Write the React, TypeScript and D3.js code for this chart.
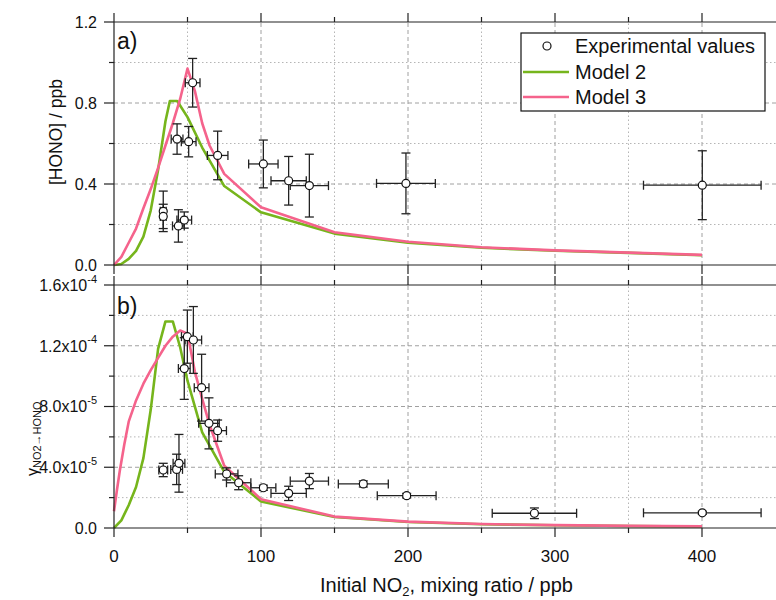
import React from 'react';
import * as d3 from 'd3';

// ---------- Data ----------
// Panel a) [HONO] / ppb
const expHonoX = [53.5, 42.9, 50.8, 70.5, 101.6, 118.8, 132.9, 33.5, 33.5, 43.8, 47.8, 198.6, 400.2];
const expHonoY = [0.90, 0.622, 0.609, 0.541, 0.499, 0.416, 0.392, 0.265, 0.24, 0.193, 0.222, 0.403, 0.394];
const expHonoXErr = [5, 4, 5, 7, 10, 12, 13, 2, 2, 4, 5, 20, 40];
const expHonoYErr = [0.12, 0.075, 0.075, 0.12, 0.118, 0.12, 0.155, 0.1, 0.06, 0.08, 0.04, 0.15, 0.17];

const model2HonoX = [0, 5, 10, 15, 20, 25, 30, 35, 38, 43, 50, 60, 75, 100, 150, 200, 250, 300, 350, 400];
const model2HonoY = [0, 0.005, 0.03, 0.07, 0.14, 0.27, 0.47, 0.71, 0.81, 0.81, 0.73, 0.58, 0.39, 0.26, 0.155, 0.11, 0.085, 0.07, 0.06, 0.048];

const model3HonoX = [0, 5, 10, 15, 20, 25, 30, 35, 40, 45, 50, 55, 60, 65, 75, 100, 150, 200, 250, 300, 350, 400];
const model3HonoY = [0, 0.04, 0.11, 0.18, 0.28, 0.375, 0.48, 0.59, 0.70, 0.82, 0.97, 0.86, 0.70, 0.59, 0.45, 0.285, 0.162, 0.115, 0.088, 0.072, 0.061, 0.05];

// Panel b) gamma NO2 -> HONO
const expGammaX = [49.9, 54.0, 47.8, 59.6, 64.6, 70.5, 76.6, 84.8, 101.6, 118.8, 132.9, 33.5, 42.6, 44.2, 169.6, 199.1, 286, 400.2];
const expGammaY = [1.26e-4, 1.238e-4, 1.05e-4, 9.24e-5, 6.89e-5, 6.41e-5, 3.56e-5, 2.98e-5, 2.65e-5, 2.28e-5, 3.09e-5, 3.82e-5, 3.86e-5, 4.26e-5, 2.9e-5, 2.13e-5, 9.7e-6, 1.0e-5];
const expGammaXErr = [4, 5.6, 4, 5, 7, 6, 7.7, 8.3, 8.5, 12, 13, 3, 4, 4, 17, 20, 28.7, 40];
const expGammaYErr = [1.75e-5, 2.2e-5, 2.03e-5, 2.2e-5, 1.68e-5, 7e-6, 4e-6, 4.6e-6, 1.7e-6, 4.7e-6, 5e-6, 4.4e-6, 1.0e-5, 1.9e-5, 2e-6, 1.5e-6, 3.5e-6, 1e-6];

const model2GammaX = [0, 5, 10, 15, 20, 25, 30, 35, 40, 45, 50, 60, 75, 100, 150, 200, 250, 300, 350, 400];
const model2GammaY = [0, 5e-6, 1.5e-5, 2.7e-5, 4.6e-5, 7.8e-5, 1.18e-4, 1.36e-4, 1.36e-4, 1.19e-4, 9.7e-5, 6.3e-5, 3.7e-5, 1.75e-5, 7.2e-6, 4e-6, 2.5e-6, 1.8e-6, 1.3e-6, 1e-6];

const model3GammaX = [0, 2, 4, 7, 10, 15, 20, 25, 30, 35, 40, 45, 50, 55, 60, 65, 75, 100, 150, 200, 250, 300, 350, 400];
const model3GammaY = [1.1e-5, 2.5e-5, 3.8e-5, 5.5e-5, 7e-5, 8.4e-5, 9.5e-5, 1.04e-4, 1.12e-4, 1.2e-4, 1.26e-4, 1.3e-4, 1.28e-4, 1.03e-4, 8.5e-5, 6.8e-5, 4.1e-5, 1.9e-5, 7.5e-6, 4.2e-6, 2.6e-6, 1.9e-6, 1.4e-6, 1.1e-6];

// Ticks
const xMajorTicks = [0, 100, 200, 300, 400];
const xMinorTicks = [50, 150, 250, 350];
const honoMajorTicks = [0, 0.4, 0.8, 1.2];
const honoMinorTicks = [0.2, 0.6, 1.0];
const honoTickLabels = ['0.0', '0.4', '0.8', '1.2'];
const gammaMajorTicks = [0, 4e-5, 8e-5, 1.2e-4, 1.6e-4];
const gammaMinorTicks = [2e-5, 6e-5, 1e-4, 1.4e-4];
const gammaTickMantissa = ['0.0', '4.0x10', '8.0x10', '1.2x10', '1.6x10'];
const gammaTickExponent = ['', '-5', '-5', '-4', '-4'];

const legendLabels = ['Experimental values', 'Model 2', 'Model 3'];

const GREEN = '#76b51c';
const PINK = '#f5638c';
const FONT = "'Liberation Sans', Arial, sans-serif";

function zip(xs: number[], ys: number[]): [number, number][] {
  return xs.map((v, i) => [v, ys[i]]);
}

export default function App() {
  const left = 114;
  const right = 776;
  const x = d3.scaleLinear().domain([0, 450]).range([114, 775.5]);
  const yA = d3.scaleLinear().domain([0, 1.2]).range([265, 22]);
  const yB = d3.scaleLinear().domain([0, 1.6e-4]).range([528, 285]);

  const panels = [
    { y: yA, major: honoMajorTicks, minor: honoMinorTicks },
    { y: yB, major: gammaMajorTicks, minor: gammaMinorTicks },
  ];

  const grid = (y: d3.ScaleLinear<number, number>, major: number[], minor: number[], key: string) => {
    const [y0, y1] = y.range();
    return (
      <g key={key}>
        {xMinorTicks.map((t) => (
          <line key={'xm' + t} x1={x(t)} x2={x(t)} y1={y0} y2={y1} stroke="#b5b5b5" strokeWidth={1} strokeDasharray="1.5,2.5" />
        ))}
        {xMajorTicks.filter((t) => t > 0).map((t) => (
          <line key={'xM' + t} x1={x(t)} x2={x(t)} y1={y0} y2={y1} stroke="#a0a0a0" strokeWidth={1} strokeDasharray="4,3" />
        ))}
        {minor.map((t) => (
          <line key={'ym' + t} x1={left} x2={right} y1={y(t)} y2={y(t)} stroke="#b5b5b5" strokeWidth={1} strokeDasharray="1.5,2.5" />
        ))}
        {major.filter((t) => t > 0 && t < y.domain()[1]).map((t) => (
          <line key={'yM' + t} x1={left} x2={right} y1={y(t)} y2={y(t)} stroke="#a0a0a0" strokeWidth={1} strokeDasharray="4,3" />
        ))}
      </g>
    );
  };

  const frame = (y: d3.ScaleLinear<number, number>, major: number[], minor: number[], key: string) => {
    const [yb, yt] = y.range();
    return (
      <g key={key} stroke="#222" strokeWidth={1.2}>
        <line x1={left} x2={right} y1={yb} y2={yb} />
        <line x1={left} x2={right} y1={yt} y2={yt} />
        <line x1={left} x2={left} y1={yt} y2={yb} />
        {xMajorTicks.map((t) => (
          <g key={'t' + t}>
            <line x1={x(t)} x2={x(t)} y1={yb} y2={yb + 9} />
            <line x1={x(t)} x2={x(t)} y1={yt} y2={yt - 9} />
          </g>
        ))}
        {xMinorTicks.map((t) => (
          <g key={'tm' + t}>
            <line x1={x(t)} x2={x(t)} y1={yb} y2={yb + 5} />
            <line x1={x(t)} x2={x(t)} y1={yt} y2={yt - 5} />
          </g>
        ))}
        {major.map((t) => (
          <line key={'yt' + t} x1={left - 10} x2={left} y1={y(t)} y2={y(t)} />
        ))}
        {minor.map((t) => (
          <line key={'ytm' + t} x1={left - 5} x2={left} y1={y(t)} y2={y(t)} />
        ))}
      </g>
    );
  };

  const points = (
    xs: number[], ys: number[], xe: number[], ye: number[], y: d3.ScaleLinear<number, number>, key: string
  ) => (
    <g key={key}>
      {xs.map((xv, i) => {
        const cx = x(xv);
        const cy = y(ys[i]);
        const xl = x(xv - xe[i]);
        const xr = x(xv + xe[i]);
        const yt = y(ys[i] + ye[i]);
        const ybt = y(ys[i] - ye[i]);
        return (
          <g key={i} stroke="#222" strokeWidth={1.3}>
            <line x1={xl} x2={xr} y1={cy} y2={cy} />
            <line x1={xl} x2={xl} y1={cy - 4.5} y2={cy + 4.5} />
            <line x1={xr} x2={xr} y1={cy - 4.5} y2={cy + 4.5} />
            <line x1={cx} x2={cx} y1={yt} y2={ybt} />
            <line x1={cx - 4.5} x2={cx + 4.5} y1={yt} y2={yt} />
            <line x1={cx - 4.5} x2={cx + 4.5} y1={ybt} y2={ybt} />
          </g>
        );
      })}
      {xs.map((xv, i) => (
        <circle key={'c' + i} cx={x(xv)} cy={y(ys[i])} r={4} fill="#fff" stroke="#111" strokeWidth={1.2} />
      ))}
    </g>
  );

  const lineA = d3.line<[number, number]>().x((d) => x(d[0])).y((d) => yA(d[1]));
  const lineB = d3.line<[number, number]>().x((d) => x(d[0])).y((d) => yB(d[1]));

  return (
    <div style={{ position: 'absolute', left: 0, top: 0 }}>
      <svg width={776} height={600} style={{ display: 'block', fontFamily: FONT }}>
        <rect width={776} height={600} fill="#fff" />
        {grid(yA, honoMajorTicks, honoMinorTicks, 'gA')}
        {grid(yB, gammaMajorTicks, gammaMinorTicks, 'gB')}

        {/* model lines */}
        <path d={lineA(zip(model2HonoX, model2HonoY)) || ''} fill="none" stroke={GREEN} strokeWidth={2.6} strokeLinejoin="round" />
        <path d={lineA(zip(model3HonoX, model3HonoY)) || ''} fill="none" stroke={PINK} strokeWidth={2.6} strokeLinejoin="round" />
        <path d={lineB(zip(model2GammaX, model2GammaY)) || ''} fill="none" stroke={GREEN} strokeWidth={2.6} strokeLinejoin="round" />
        <path d={lineB(zip(model3GammaX, model3GammaY)) || ''} fill="none" stroke={PINK} strokeWidth={2.6} strokeLinejoin="round" />

        {points(expHonoX, expHonoY, expHonoXErr, expHonoYErr, yA, 'pA')}
        {points(expGammaX, expGammaY, expGammaXErr, expGammaYErr, yB, 'pB')}

        {panels.map((p, i) => frame(p.y, p.major, p.minor, 'f' + i))}

        {/* y tick labels */}
        {honoMajorTicks.map((t, i) => (
          <text key={'la' + t} x={97} y={yA(t)} dy="0.36em" textAnchor="end" fontSize={16} fill="#111">
            {honoTickLabels[i]}
          </text>
        ))}
        {gammaMajorTicks.map((t, i) => (
          <text key={'lb' + t} x={97} y={yB(t)} dy="0.36em" textAnchor="end" fontSize={16} fill="#111">
            {gammaTickMantissa[i]}
            {gammaTickExponent[i] ? (
              <tspan fontSize={11} dy="-0.75em">{gammaTickExponent[i]}</tspan>
            ) : null}
          </text>
        ))}

        {/* x tick labels */}
        {xMajorTicks.map((t) => (
          <text key={'lx' + t} x={x(t)} y={562} textAnchor="middle" fontSize={17} fill="#111">
            {t}
          </text>
        ))}

        {/* axis titles */}
        <text x={320} y={592} fontSize={20} fill="#111">
          Initial NO<tspan fontSize={13} dy="4">2</tspan>
          <tspan dy="-4">, mixing ratio / ppb</tspan>
        </text>
        <text transform="translate(62,132) rotate(-90)" textAnchor="middle" fontSize={17.5} fill="#111">
          [HONO] / ppb
        </text>
        <text transform="translate(38,476) rotate(-90)" fontSize={16} fill="#111">
          γ<tspan fontSize={11} dy="3">NO2→HONO</tspan>
        </text>

        {/* panel labels */}
        <text x={117} y={49} fontSize={23} fill="#111">a)</text>
        <text x={117} y={314} fontSize={23} fill="#111">b)</text>

        {/* legend */}
        <g>
          <rect x={521} y={33} width={244} height={78} fill="#fff" stroke="#111" strokeWidth={1.2} />
          <circle cx={547} cy={46} r={4} fill="#fff" stroke="#111" strokeWidth={1.2} />
          <line x1={523} x2={569} y1={72} y2={72} stroke={GREEN} strokeWidth={2.6} />
          <line x1={523} x2={569} y1={97} y2={97} stroke={PINK} strokeWidth={2.6} />
          {legendLabels.map((l, i) => (
            <text key={l} x={575} y={46 + i * 25.5} dy="0.36em" fontSize={20} fill="#111">
              {l}
            </text>
          ))}
        </g>
      </svg>
    </div>
  );
}
